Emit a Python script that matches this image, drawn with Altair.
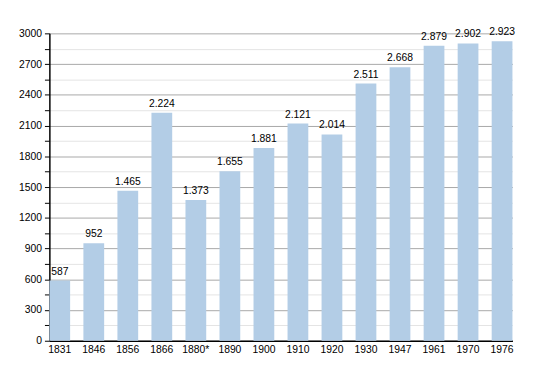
import altair as alt
import pandas as pd

years = ["1831", "1846", "1856", "1866", "1880*", "1890", "1900", "1910", "1920",
         "1930", "1947", "1961", "1970", "1976"]
population = [587, 952, 1465, 2224, 1373, 1655, 1881, 2121, 2014, 2511, 2668, 2879, 2902, 2923]
labels = ["587", "952", "1.465", "2.224", "1.373", "1.655", "1.881", "2.121", "2.014",
          "2.511", "2.668", "2.879", "2.902", "2.923"]
ytick_values = list(range(0, 3001, 150))

df = pd.DataFrame({"year": years, "pop": population, "label": labels})

FONT = "Liberation Sans"

x = alt.X("year:N", sort=years, title=None,
          scale=alt.Scale(paddingInner=0.39, paddingOuter=0),
          axis=alt.Axis(labelAngle=0, ticks=False, domainColor="black", labelColor="black",
                        labelFont=FONT, labelFontSize=10.5, labelPadding=4))
y = alt.Y("pop:Q", title=None, scale=alt.Scale(domain=[0, 3000], nice=False, zero=True),
          axis=alt.Axis(values=ytick_values, labelOverlap=False, tickCount=21,
                        labelExpr="datum.value % 300 === 0 ? datum.value : ''",
                        gridColor=alt.condition("datum.value % 300 === 0", alt.value("#a8a8a8"), alt.value("#e4e4e4")),
                        tickColor="black", domainColor="black", labelColor="black",
                        labelFont=FONT, labelFontSize=10.5, tickSize=5, labelPadding=3))

base = alt.Chart(df).encode(x=x, y=y)
bars = base.mark_bar(color="#b3cde6")
text = base.mark_text(dy=-9, font=FONT, fontSize=10.5, color="black").encode(text="label:N")

chart = alt.layer(bars, text).properties(
    width=470, height=312, autosize="none",
    padding={"left": 42, "top": 23, "right": 30, "bottom": 30},
).configure_view(stroke=None).configure_axis(domainWidth=1.5)

chart.save("out.html", embed_options={"renderer": "svg", "actions": False})
